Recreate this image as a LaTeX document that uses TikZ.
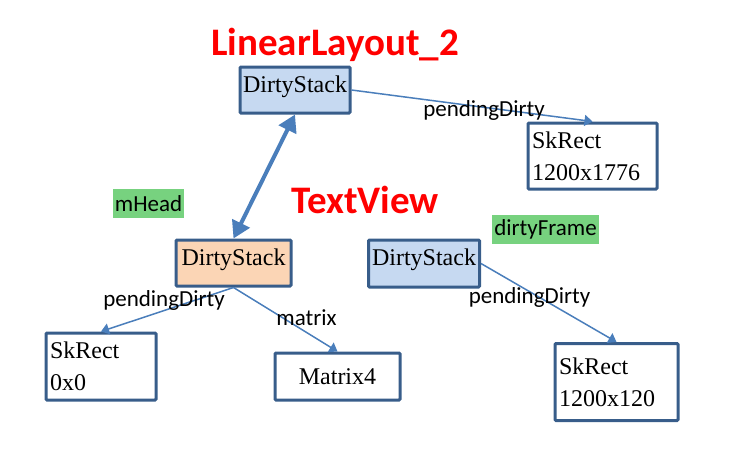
\documentclass[tikz,border=0pt]{standalone}
\usepackage{fontspec}
\setmainfont{Liberation Serif}
\newfontfamily\labelfont{Carlito}
\usepackage{xcolor}
\usetikzlibrary{shapes,arrows.meta,positioning}

\definecolor{boxline}{HTML}{385D8A}
\definecolor{stackblue}{HTML}{C6D9F1}
\definecolor{stackorange}{HTML}{FBD5B5}
\definecolor{linkblue}{HTML}{4A7EBB}
\definecolor{taggreen}{HTML}{77D27F}

\begin{document}
\begin{tikzpicture}[x=1pt, y=-1pt]
% Define styles
\tikzstyle{stackbox} = [rectangle, rounded corners=1pt, minimum width=110pt, minimum height=46pt, inner sep=2pt, text height=16pt, text depth=12pt, text centered, draw=boxline, line width=3pt, font=\fontsize{24}{32}\selectfont]
\tikzstyle{rectbox} = [rectangle, rounded corners=1pt, inner sep=4pt, align=left, draw=boxline, fill=white, line width=3pt, font=\fontsize{24}{32}\selectfont]
\tikzstyle{fieldtag} = [rectangle, fill=taggreen, inner sep=0pt, minimum height=29pt, font=\labelfont\fontsize{23}{27}\selectfont]
\tikzstyle{fieldlabel} = [anchor=base, inner sep=0pt, font=\labelfont\fontsize{23}{27}\selectfont]
\tikzstyle{titletext} = [anchor=base, inner sep=0pt, text=red, font=\labelfont\bfseries\fontsize{39}{44}\selectfont]
\tikzstyle{arrow} = [draw=linkblue, line width=1.5pt, -{Triangle[width=11pt,length=8pt]}]
\tikzstyle{biarrow} = [draw=linkblue, line width=4pt, {Triangle[width=19pt,length=17pt]}-{Triangle[width=19pt,length=17pt]}]

\useasboundingbox (0,0) rectangle (745,450);

% Place nodes
\node (layout) [titletext] at (335,55) {LinearLayout\_2};
\node (textview) [titletext] at (365,213) {TextView};
\node (head) [fieldtag, minimum width=71pt] at (148.5,203.5) {mHead};
\node (frame) [fieldtag, minimum width=107pt] at (545.5,229.5) {dirtyFrame};

\node (top) [stackbox, fill=stackblue] at (295,90) {DirtyStack};
\node (mid) [stackbox, fill=stackorange, minimum width=115pt] at (233.5,263) {DirtyStack};
\node (rds) [stackbox, fill=stackblue, minimum width=111pt, minimum height=47pt] at (424,263.5) {DirtyStack};

\node (sk1) [rectbox, text width=121pt, minimum height=66pt] at (592.5,156) {SkRect\\1200x1776};
\node (sk0) [rectbox, text width=102pt, minimum height=67pt] at (101,366.5) {SkRect\\0x0};
\node (mat) [rectbox, align=center, text width=117pt, minimum height=47pt] at (337.5,376.5) {Matrix4};
\node (sk2) [rectbox, text width=115pt, minimum height=77pt] at (616.5,382) {SkRect\\1200x120\\[-10pt]};

% Draw arrows
\draw [arrow] (top.east) -- (sk1.north);
\draw [biarrow] (top.south) -- (mid.north);
\draw [arrow] (mid.south) -- (sk0.north);
\draw [arrow] (mid.south) -- (mat.north);
\draw [arrow] (rds.east) -- (sk2.north);

% Labels
\node (pd1) [fieldlabel] at (484,116.5) {pendingDirty};
\node (pd0) [fieldlabel] at (164,306.5) {pendingDirty};
\node (mx) [fieldlabel] at (306.5,325.5) {matrix};
\node (pd2) [fieldlabel] at (529.5,303) {pendingDirty};
\end{tikzpicture}
\end{document}
